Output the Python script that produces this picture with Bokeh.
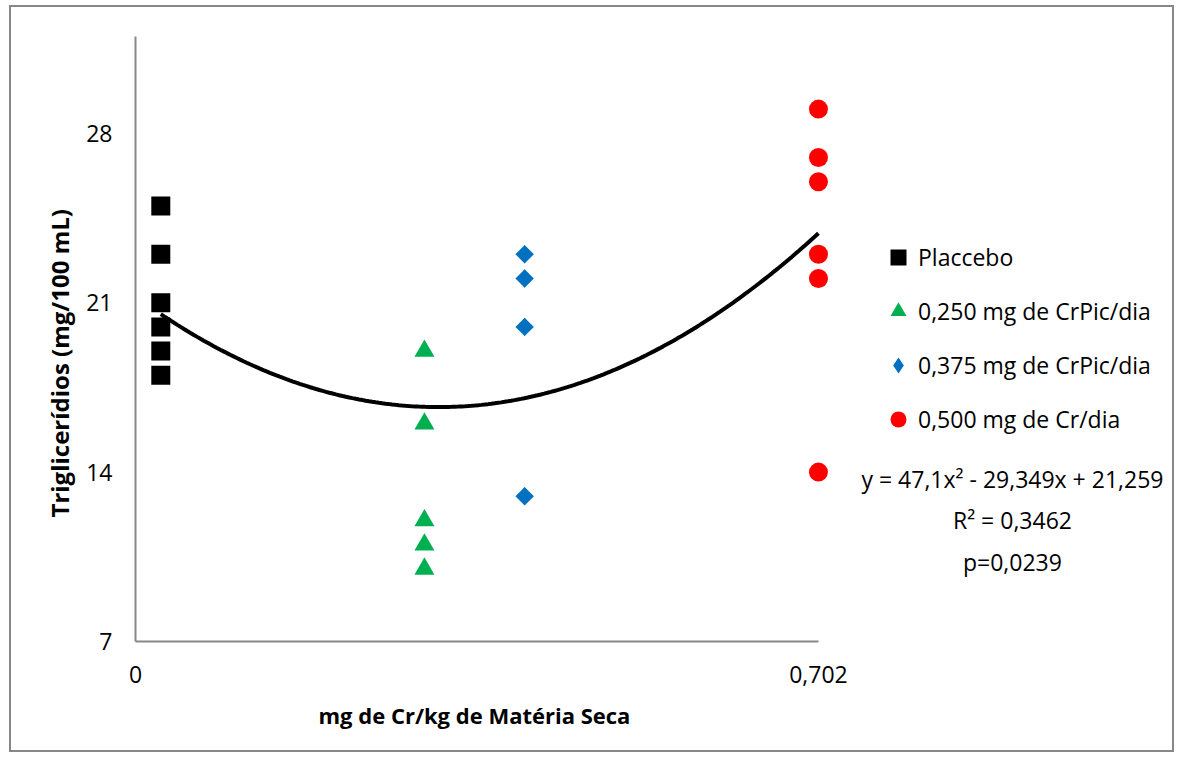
import numpy as np
from bokeh.plotting import figure
from bokeh.models import Range1d, FixedTicker, Legend, LegendItem, Label, Title
from bokeh.embed import file_html
from bokeh.resources import INLINE

# ---- data ----
placebo_x = [0.026] * 6
placebo_y = [25, 23, 21, 20, 19, 18]
dose250_x = [0.297] * 5
dose250_y = [19, 16, 12, 11, 10]
dose375_x = [0.400] * 4
dose375_y = [23, 22, 20, 13]
dose500_x = [0.702] * 6
dose500_y = [29, 27, 26, 23, 22, 14]

series_names = ["Placcebo", "0,250 mg de CrPic/dia", "0,375 mg de CrPic/dia", "0,500 mg de Cr/dia"]
trend_coef = [47.1, -29.349, 21.259]   # y = a x^2 + b x + c (Excel trend line)
trend_text = "y = 47,1x² - 29,349x + 21,259\nR² = 0,3462\np=0,0239"
x_title = "mg de Cr/kg de Matéria Seca"
y_title = "Triglicerídios (mg/100 mL)"
y_ticks = [7, 14, 21, 28]
x_ticks = [0, 0.702]
x_tick_labels = {0: "0", 0.702: "0,702"}

FONT = "Open Sans"

p = figure(width=1165, height=747, output_backend="svg", toolbar_location=None,
           x_range=Range1d(0, 1.0659), y_range=Range1d(7, 32),
           min_border_left=124, min_border_top=29, min_border_right=4, min_border_bottom=113)
p.styles = {"border": "2px solid #878787", "margin-left": "9px", "margin-top": "5px"}
p.outline_line_color = None
p.grid.grid_line_color = None
p.background_fill_color = "white"
p.border_fill_color = "white"

# trend line over data range
all_x = placebo_x + dose250_x + dose375_x + dose500_x
tx = np.linspace(min(all_x), max(all_x), 200)
ty = np.polyval(trend_coef, tx)
p.line(tx, ty, line_color="black", line_width=4)

r1 = p.scatter(placebo_x, placebo_y, marker="square", size=19, fill_color="black", line_color=None)
r2 = p.scatter(dose250_x, dose250_y, marker="triangle", size=20, fill_color="#00B050", line_color=None)
# diamond key (used for the legend swatch, sits fully under the rotated squares)
r3_key = p.scatter(dose375_x, dose375_y, marker="diamond", size=18, fill_color="#0070C0", line_color=None)
r3 = p.scatter(dose375_x, dose375_y, marker="square", angle=np.pi / 4, size=13, fill_color="#0070C0", line_color=None)
r4 = p.scatter(dose500_x, dose500_y, marker="circle", size=19, fill_color="#FF0000", line_color=None)

# axes
for ax in (p.xaxis[0], p.yaxis[0]):
    ax.axis_line_color = "#878787"
    ax.axis_line_width = 2
    ax.major_tick_line_color = None
    ax.minor_tick_line_color = None
    ax.major_label_text_font = FONT
    ax.major_label_text_font_size = "23px"
    ax.major_label_text_color = "black"

p.xaxis.ticker = FixedTicker(ticks=x_ticks)
p.xaxis.major_label_overrides = x_tick_labels
p.xaxis.bounds = (0, 0.702)
p.xaxis.major_label_standoff = 18

p.yaxis.ticker = FixedTicker(ticks=y_ticks)
p.yaxis.bounds = (7, 32)
p.yaxis.major_label_standoff = 17

p.add_layout(Title(text=x_title, align="left", offset=183, standoff=24,
                   text_font=FONT, text_font_size="22px", text_font_style="bold",
                   text_color="black"), "below")
p.add_layout(Title(text=y_title, align="left", offset=124, standoff=15,
                   text_font=FONT, text_font_size="24px", text_font_style="bold",
                   text_color="black"), "left")

legend = Legend(items=[LegendItem(label=series_names[0], renderers=[r1]),
                       LegendItem(label=series_names[1], renderers=[r2]),
                       LegendItem(label=series_names[2], renderers=[r3_key]),
                       LegendItem(label=series_names[3], renderers=[r4])],
                location=(743, 202), orientation="vertical",
                glyph_width=40, glyph_height=40, label_height=40, spacing=14,
                label_standoff=0, padding=0, margin=0,
                border_line_color=None, background_fill_alpha=0,
                label_text_font=FONT, label_text_font_size="23px", label_text_color="black")
p.add_layout(legend, "center")

eq = Label(x=0.9014, y=12.0, text=trend_text, text_align="center", text_baseline="middle",
           text_font=FONT, text_font_size="23px", text_color="black", text_line_height=1.3)
p.add_layout(eq)

open("out.html", "w").write(file_html(p, INLINE))
